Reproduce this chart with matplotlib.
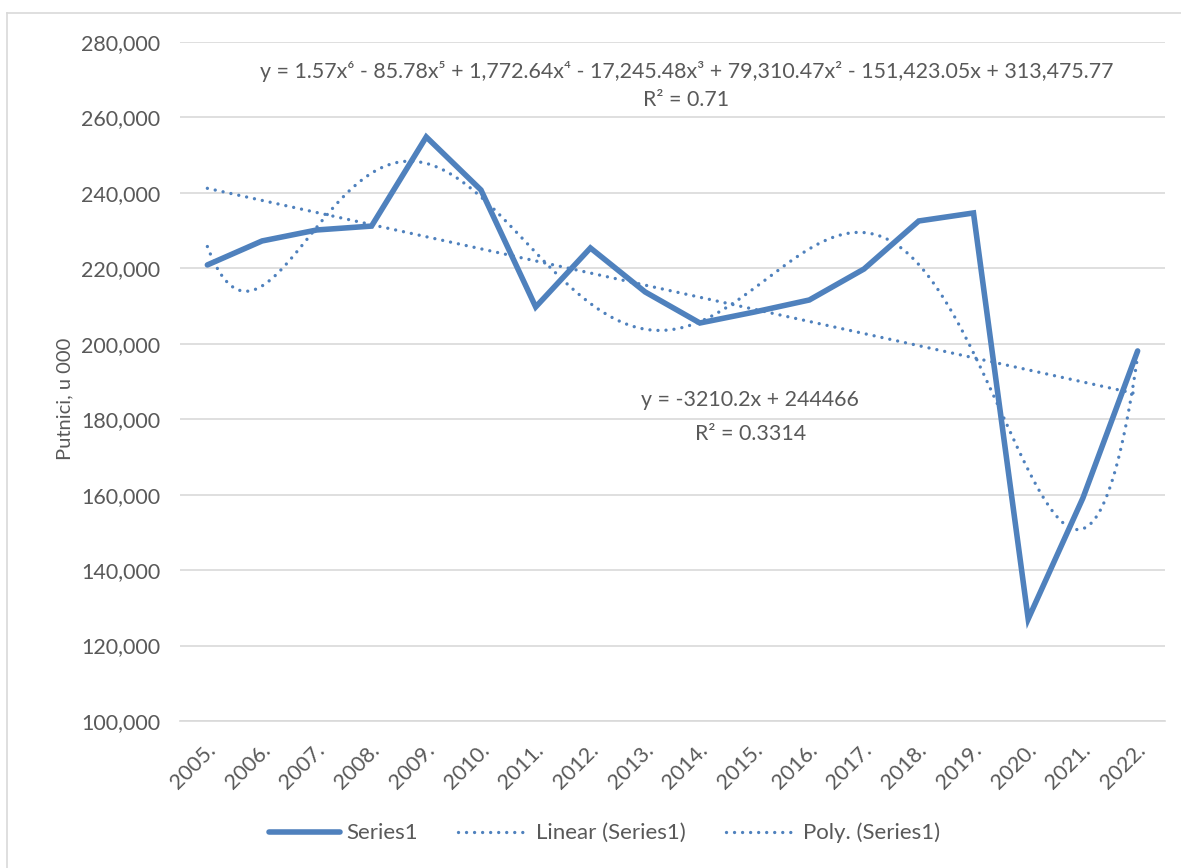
import numpy as np
import matplotlib
matplotlib.use("Agg")
import matplotlib.pyplot as plt
from matplotlib.ticker import FuncFormatter
from matplotlib.lines import Line2D
from matplotlib.transforms import ScaledTranslation

years = ["2005.", "2006.", "2007.", "2008.", "2009.", "2010.", "2011.", "2012.", "2013.",
         "2014.", "2015.", "2016.", "2017.", "2018.", "2019.", "2020.", "2021.", "2022."]
passengers = [220900, 227260, 230170, 231200, 254830, 240770, 209760, 225400, 213740,
              205510, 208430, 211610, 219830, 232550, 234680, 127040, 159120, 198100]

plt.rcParams['font.family'] = ['Lato', 'DejaVu Sans']
TXT = '#595959'
BLUE = '#4F81BD'
DOT = (0, (0.01, 2.4))

fig = plt.figure(figsize=(11.81, 8.68), dpi=100)
ax = fig.add_axes([180/1181, 1-721/868, (1165-180)/1181, (721-42)/868])

x = np.arange(len(years))
xn = x + 1
ax.plot(x, passengers, color=BLUE, lw=4.0, solid_joinstyle='miter', solid_capstyle='round',
        label='Series1', zorder=3)

# linear trend
lc = np.polyfit(xn, passengers, 1)
ax.plot(x, np.polyval(lc, xn), color=BLUE, lw=2.4, linestyle=DOT,
        dash_capstyle='round', label='Linear (Series1)', zorder=2)
# polynomial trend (6th order)
pc = np.polyfit(xn, passengers, 6)
xs = np.linspace(1, len(years), 400)
ax.plot(xs - 1, np.polyval(pc, xs), color=BLUE, lw=2.4, linestyle=DOT,
        dash_capstyle='round', label='Poly. (Series1)', zorder=2)

ax.set_xlim(-0.5, len(years) - 0.5)
ax.set_ylim(100000, 280000)
ax.set_yticks(np.arange(100000, 280001, 20000))
ax.yaxis.set_major_formatter(FuncFormatter(lambda v, p: f"{int(v):,}"))
ax.grid(axis='y', color='#D9D9D9', lw=1.2)
ax.set_axisbelow(True)
for s in ['top', 'right', 'left']:
    ax.spines[s].set_visible(False)
ax.spines['bottom'].set_color('#D9D9D9')
ax.spines['bottom'].set_linewidth(1.2)
ax.tick_params(axis='both', length=0, colors=TXT)
ax.tick_params(axis='y', labelsize=15.5, pad=14)
ax.set_xticks(x)
ax.set_xticklabels(years, rotation=45, ha='right', va='center', rotation_mode='anchor',
                   fontsize=15.5, color=TXT)
ax.tick_params(axis='x', pad=19)
off = ScaledTranslation(5/100, 0, fig.dpi_scale_trans)
for lbl in ax.get_xticklabels():
    lbl.set_transform(lbl.get_transform() + off)

ax.set_ylabel('Putnici, u 000', fontsize=14.5, color=TXT)
ax.yaxis.set_label_coords(-0.108, 0.474)

ax.text(0.514, 0.956,
        "y = 1.57x⁶ - 85.78x⁵ + 1,772.64x⁴ - 17,245.48x³ + 79,310.47x² - 151,423.05x + 313,475.77",
        transform=ax.transAxes, ha='center', va='center', fontsize=15.4, color=TXT)
ax.text(0.514, 0.915, "R² = 0.71", transform=ax.transAxes, ha='center', va='center',
        fontsize=15.4, color=TXT)
ax.text(0.579, 0.473, "y = -3210.2x + 244466", transform=ax.transAxes, ha='center',
        va='center', fontsize=15.4, color=TXT)
ax.text(0.579, 0.423, "R² = 0.3314", transform=ax.transAxes, ha='center', va='center',
        fontsize=15.4, color=TXT)

leg = fig.legend(loc='center', bbox_to_anchor=(0.512, 1-833/868), ncol=3, frameon=False,
                 fontsize=16, handlelength=3.2, columnspacing=1.8, handletextpad=0.3)
for t in leg.get_texts():
    t.set_color(TXT)

# chart area border (top and left edges visible)
fig.add_artist(Line2D([7/1181, 1.0], [1-13/868, 1-13/868], transform=fig.transFigure,
                      color='#D9D9D9', lw=1.2))
fig.add_artist(Line2D([7/1181, 7/1181], [0.0, 1-13/868], transform=fig.transFigure,
                      color='#D9D9D9', lw=1.2))

fig.savefig('out.png', dpi=100)
